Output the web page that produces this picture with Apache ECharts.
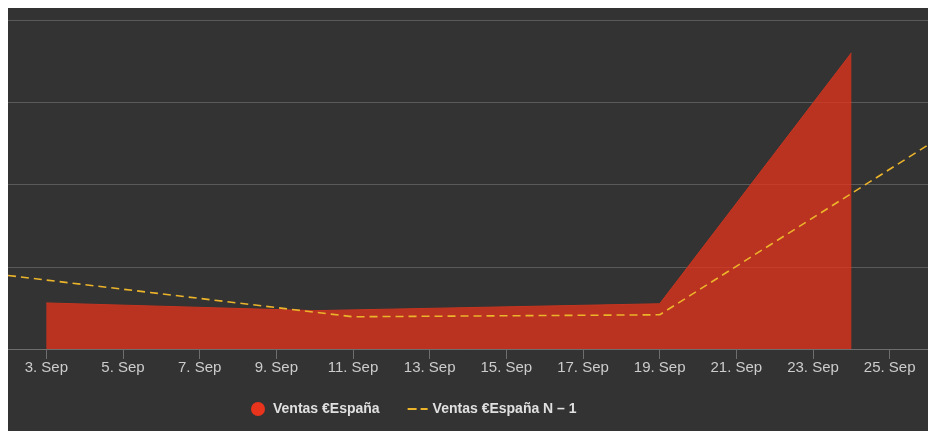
<!DOCTYPE html>
<html>
<head>
<meta charset="utf-8">
<script src="https://cdn.jsdelivr.net/npm/echarts@6/dist/echarts.min.js"></script>
<style>
  html, body { margin: 0; padding: 0; background: #ffffff; }
  #chart { position: absolute; left: 8px; top: 8px; width: 920px; height: 423px; }
</style>
</head>
<body>
<div id="chart"></div>
<script>
// ---- data ----
const seriesNames = ['Ventas €España', 'Ventas €España N – 1'];
const salesDates = ['2023-09-03', '2023-09-10', '2023-09-19', '2023-09-24'];
const salesValues = [2800, 2330, 2750, 18000];
const prevDates = ['2023-09-02', '2023-09-11', '2023-09-19', '2023-09-26'];
const prevValues = [4470, 1960, 2080, 12400];
const tickDates = ['2023-09-03', '2023-09-05', '2023-09-07', '2023-09-09', '2023-09-11', '2023-09-13',
  '2023-09-15', '2023-09-17', '2023-09-19', '2023-09-21', '2023-09-23', '2023-09-25'];
const tickLabels = ['3. Sep', '5. Sep', '7. Sep', '9. Sep', '11. Sep', '13. Sep',
  '15. Sep', '17. Sep', '19. Sep', '21. Sep', '23. Sep', '25. Sep'];
const axisMinDate = '2023-09-02';
const axisMaxDate = '2023-09-26';

function ts(s) {
  const p = s.split('-').map(Number);
  return Date.UTC(p[0], p[1] - 1, p[2]);
}
const tickTs = tickDates.map(ts);
const labelByTs = {};
tickTs.forEach((t, i) => { labelByTs[t] = tickLabels[i]; });

const chart = echarts.init(document.getElementById('chart'), null, { renderer: 'canvas' });
chart.setOption({
  backgroundColor: '#333333',
  animation: false,
  grid: { left: 0, right: 0, top: 12, bottom: 82, containLabel: false },
  legend: {
    left: 243,
    top: 394,
    padding: 0,
    itemWidth: 20,
    itemHeight: 14,
    itemGap: 28,
    textStyle: { color: '#e0e0e0', fontSize: 14, fontWeight: 'bold', fontFamily: 'Liberation Sans, Arial, sans-serif' },
    data: [
      { name: seriesNames[0], icon: 'circle' },
      { name: seriesNames[1], icon: 'path://M0 0H9V2H0Z M13 0H20V2H13Z' }
    ]
  },
  xAxis: {
    type: 'value',
    min: ts(axisMinDate),
    max: ts(axisMaxDate),
    axisLine: { show: true, lineStyle: { color: '#6e6e6e', width: 1 } },
    axisTick: { show: true, length: 10, lineStyle: { color: '#6e6e6e' }, customValues: tickTs },
    axisLabel: {
      customValues: tickTs,
      color: '#cccccc',
      fontSize: 15,
      fontFamily: 'Liberation Sans, Arial, sans-serif',
      margin: 11,
      hideOverlap: false,
      formatter: function (v) { return labelByTs[v] !== undefined ? labelByTs[v] : ''; }
    },
    splitLine: { show: false }
  },
  yAxis: {
    type: 'value',
    min: 0,
    max: 20000,
    interval: 5000,
    axisLabel: { show: false },
    axisLine: { show: false },
    axisTick: { show: false },
    splitLine: { show: true, lineStyle: { color: '#5a5a5a', width: 1 } }
  },
  series: [
    {
      name: seriesNames[0],
      type: 'line',
      data: salesDates.map((d, i) => [ts(d), salesValues[i]]),
      showSymbol: false,
      symbol: 'none',
      color: '#e8341c',
      lineStyle: { width: 1, color: '#c8351f' },
      areaStyle: { color: '#e8341c', opacity: 0.75 },
      z: 2
    },
    {
      name: seriesNames[1],
      type: 'line',
      data: prevDates.map((d, i) => [ts(d), prevValues[i]]),
      showSymbol: false,
      symbol: 'none',
      color: '#ecb42a',
      lineStyle: { width: 1.6, type: [8, 5], color: '#ecb42a' },
      z: 3
    }
  ]
});
</script>
</body>
</html>
